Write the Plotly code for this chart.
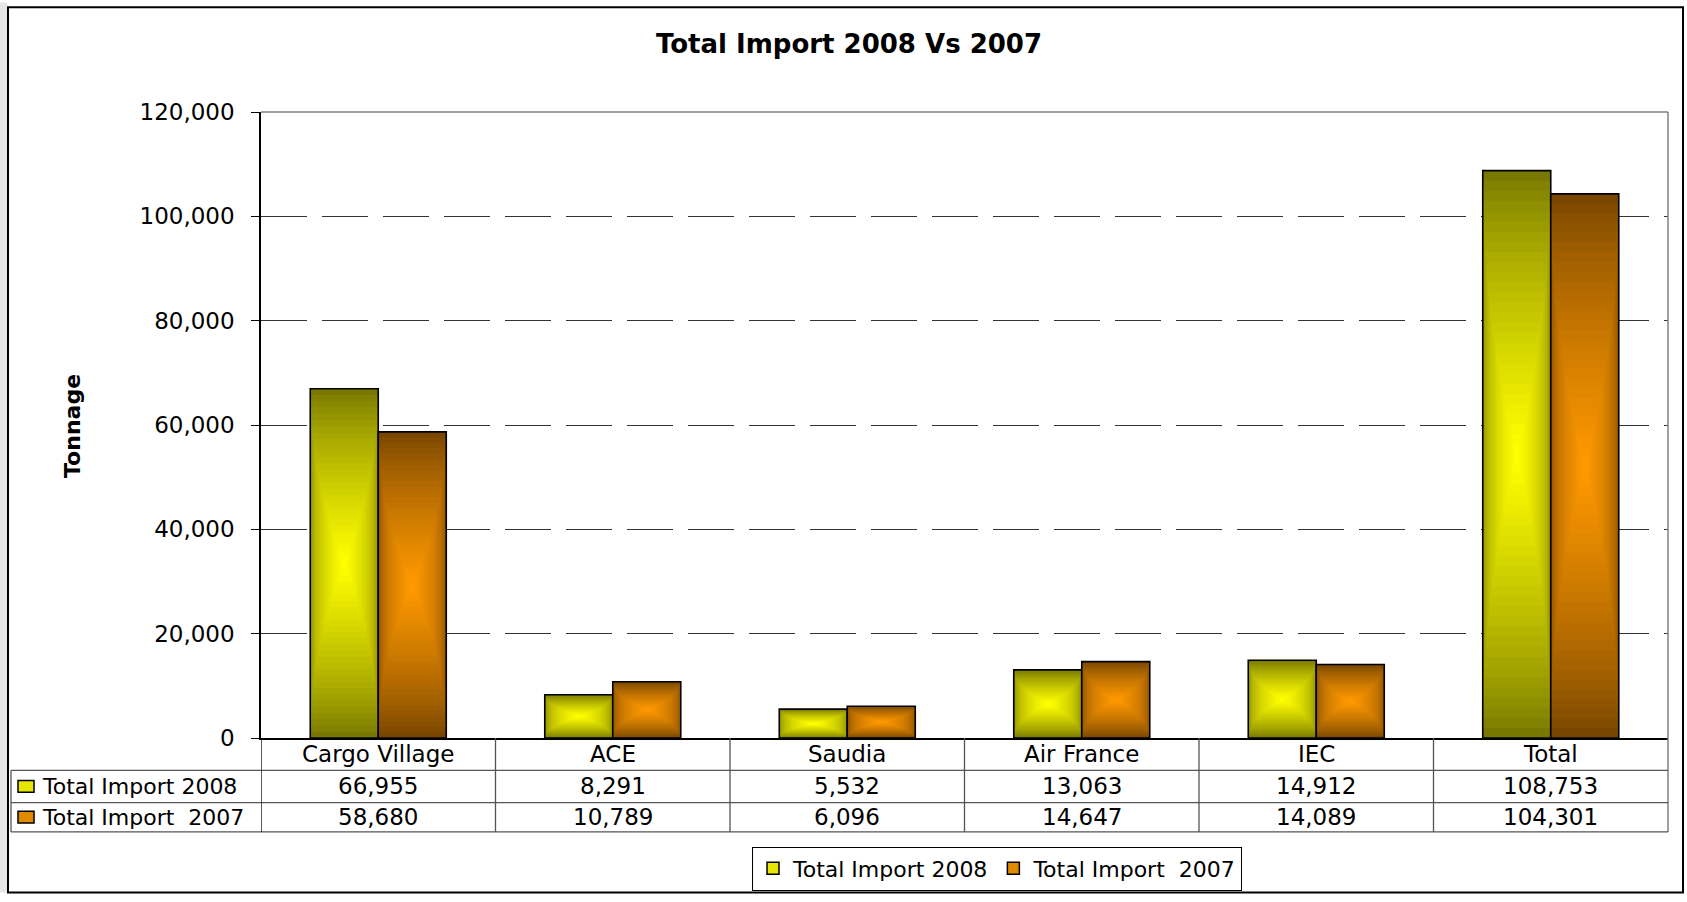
import plotly.graph_objects as go

# ---------------- data ----------------
categories = ["Cargo Village", "ACE", "Saudia", "Air France", "IEC", "Total"]
import_2008 = [66955, 8291, 5532, 13063, 14912, 108753]
import_2007 = [58680, 10789, 6096, 14647, 14089, 104301]
series_names = ["Total Import 2008", "Total Import\u00a0 2007"]
y_ticks = [0, 20000, 40000, 60000, 80000, 100000, 120000]
y_tick_text = ["0", "20,000", "40,000", "60,000", "80,000", "100,000", "120,000"]
chart_title = "Total Import 2008 Vs 2007"
y_title = "Tonnage"

# ---------------- style ----------------
W, H = 1687, 902
L, R, T, B = 261, 19, 112, 150
PW, PH = W - L - R, H - T - B
FONT = "DejaVu Sans"
dark = [(120, 120, 0), (120, 70, 0)]
bright = [(255, 255, 0), (255, 153, 0)]
key_fill = ["#e6e600", "#e08a00"]
BAR_W = 0.29
N_LAYERS = 28


def px_x(p):
    return (p - L) / PW


def px_y(p):
    return (H - B - p) / PH


def mix(c0, c1, s):
    return "rgb(%d,%d,%d)" % tuple(round(a + (b - a) * s) for a, b in zip(c0, c1))


fig = go.Figure()

for si, vals in enumerate([import_2008, import_2007]):
    centre = -BAR_W / 2 if si == 0 else BAR_W / 2
    for k in range(N_LAYERS):
        t = k / N_LAYERS
        s = (k / (N_LAYERS - 1)) ** 0.8
        wk = BAR_W * (1 - t ** 2.0)
        fig.add_trace(go.Bar(
            x=categories,
            y=[v * (1 - t) for v in vals],
            base=[v * t / 2 for v in vals],
            width=[wk] * len(vals),
            offset=[centre - wk / 2] * len(vals),
            marker=dict(color=mix(dark[si], bright[si], s), line=dict(width=0)),
            showlegend=False,
            hoverinfo="skip",
        ))
    # outline
    fig.add_trace(go.Bar(
        x=categories, y=vals,
        width=[BAR_W] * len(vals),
        offset=[centre - BAR_W / 2] * len(vals),
        marker=dict(color="rgba(0,0,0,0)", line=dict(color="black", width=1.6)),
        showlegend=False,
        name=series_names[si],
        hovertemplate="%{x}: %{y:,}<extra>" + series_names[si] + "</extra>",
    ))

# legend entries
for si in range(2):
    fig.add_trace(go.Bar(
        x=categories, y=[None] * len(categories),
        name=series_names[si],
        marker=dict(color=key_fill[si], line=dict(color="black", width=1.5)),
        showlegend=True,
    ))

shapes = []
annotations = []
grey = "#555555"

# outer frame
shapes.append(dict(type="rect", xref="paper", yref="paper",
                   x0=px_x(8), x1=px_x(1683), y0=px_y(5), y1=px_y(910),
                   line=dict(color="black", width=2), fillcolor="rgba(0,0,0,0)", layer="above"))
# left stripe area
shapes.append(dict(type="rect", xref="paper", yref="paper",
                   x0=px_x(0), x1=px_x(7), y0=px_y(0), y1=px_y(910),
                   line=dict(width=0), fillcolor="#e6e6e6", layer="below"))
# plot top & right border (grey)
shapes.append(dict(type="line", xref="paper", yref="paper", x0=0, x1=1, y0=1, y1=1,
                   line=dict(color="#808080", width=1.5)))
shapes.append(dict(type="line", xref="paper", yref="paper", x0=1, x1=1, y0=1, y1=px_y(848),
                   line=dict(color="#808080", width=1.5)))

# data table lines
row_lines = [785, 818, 848]
for ry in row_lines:
    shapes.append(dict(type="line", xref="paper", yref="paper",
                       x0=px_x(11), x1=1, y0=px_y(ry), y1=px_y(ry),
                       line=dict(color=grey, width=1.3)))
shapes.append(dict(type="line", xref="paper", yref="paper",
                   x0=px_x(11), x1=px_x(11), y0=px_y(785), y1=px_y(848),
                   line=dict(color=grey, width=1.3)))
for i in range(len(categories)):
    shapes.append(dict(type="line", xref="x", yref="paper",
                       x0=i - 0.5, x1=i - 0.5, y0=0, y1=px_y(848),
                       line=dict(color=grey if i else "black", width=1.3)))

# category row
for i, c in enumerate(categories):
    annotations.append(dict(x=i, y=px_y(768.5), xref="x", yref="paper", text=c,
                            showarrow=False, font=dict(family=FONT, size=23, color="black"),
                            xanchor="center", yanchor="middle"))
# value rows
row_centres = [801.5, 833]
for si, vals in enumerate([import_2008, import_2007]):
    yc = row_centres[si]
    for i, v in enumerate(vals):
        annotations.append(dict(x=i, y=px_y(yc), xref="x", yref="paper", text=f"{v:,}",
                                showarrow=False, font=dict(family=FONT, size=23, color="black"),
                                xanchor="center", yanchor="middle"))
    annotations.append(dict(x=px_x(40), y=px_y(yc), xref="paper", yref="paper",
                            text=series_names[si], showarrow=False,
                            font=dict(family=FONT, size=22, color="black"),
                            xanchor="left", yanchor="middle"))
    shapes.append(dict(type="rect", xref="paper", yref="paper",
                       x0=px_x(18), x1=px_x(34), y0=px_y(yc - 6), y1=px_y(yc + 6),
                       line=dict(color="black", width=1.5), fillcolor=key_fill[si]))

# y title
annotations.append(dict(x=px_x(73), y=px_y(433), xref="paper", yref="paper",
                        text="<b>" + y_title + "</b>", textangle=-90, showarrow=False,
                        font=dict(family=FONT, size=22, color="black"),
                        xanchor="center", yanchor="middle"))

fig.update_layout(
    width=W, height=H,
    margin=dict(l=L, r=R, t=T, b=B, pad=0),
    paper_bgcolor="white", plot_bgcolor="white",
    barmode="overlay",
    title=dict(text="<b>" + chart_title + "</b>", x=849 / W, xanchor="center",
               y=(H - 44) / H, yanchor="middle", yref="container",
               font=dict(family=FONT, size=26, color="black")),
    xaxis=dict(range=[-0.5, len(categories) - 0.5], showticklabels=False, ticks="",
               showgrid=False, zeroline=False, showline=True, linecolor="black",
               linewidth=1.5, fixedrange=True),
    yaxis=dict(range=[0, 120000], tickvals=y_ticks, ticktext=y_tick_text,
               ticks="outside", ticklen=8, tickcolor="black", tickwidth=1,
               ticklabelstandoff=12,
               tickfont=dict(family=FONT, size=23, color="black"),
               showgrid=True, gridcolor="#333333", gridwidth=1, griddash="46px,15px",
               zeroline=False, showline=True, linecolor="black", linewidth=1.5,
               fixedrange=True),
    legend=dict(orientation="h", x=px_x(752), y=px_y(863), xanchor="left", yanchor="top",
                bordercolor="black", borderwidth=1, bgcolor="white",
                font=dict(family=FONT, size=22, color="black"),
                traceorder="normal", itemclick=False, itemdoubleclick=False),
    shapes=shapes,
    annotations=annotations,
    showlegend=True,
)

fig.write_html(
    "out.html",
    config={"displayModeBar": False},
    post_script="document.body.style.margin='0px';document.body.style.overflow='hidden';",
)
